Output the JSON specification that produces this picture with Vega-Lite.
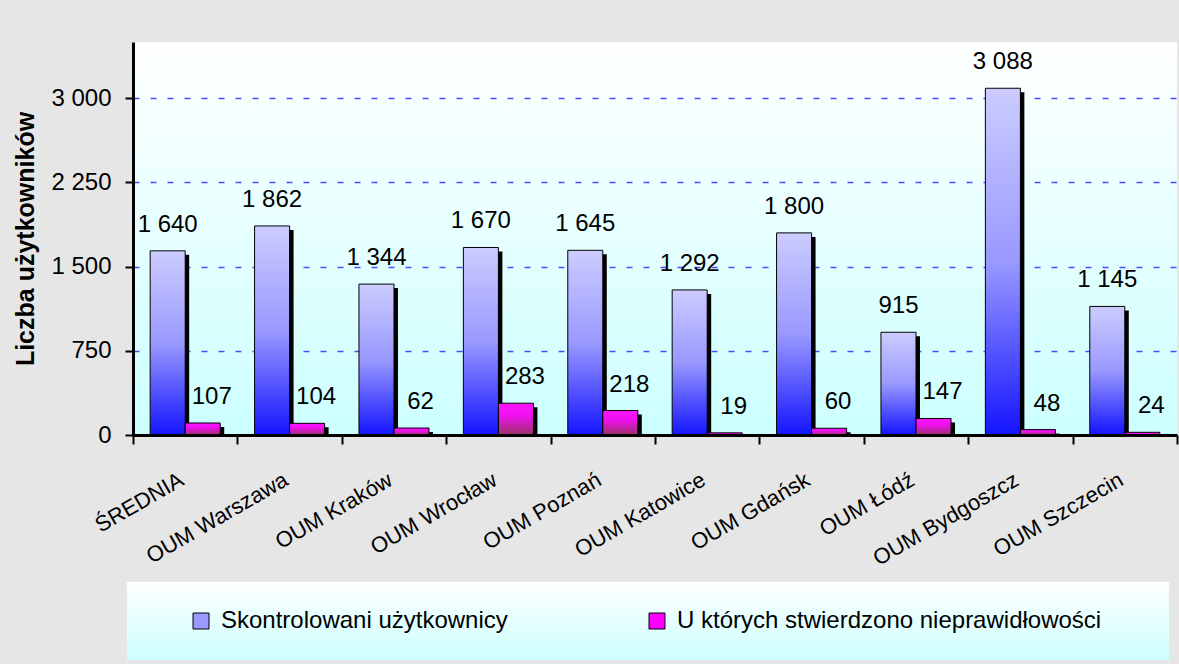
{
  "$schema": "https://vega.github.io/schema/vega-lite/v6.json",
  "width": 1044,
  "height": 393,
  "autosize": {"type": "none"},
  "padding": {"left": 133, "top": 42, "right": 2, "bottom": 229},
  "background": "#e6e6e6",
  "view": {
    "stroke": null,
    "fill": {"gradient": "linear", "x1": 0, "y1": 0, "x2": 0, "y2": 1,
      "stops": [{"offset": 0, "color": "#ffffff"}, {"offset": 1, "color": "#ccffff"}]}
  },
  "config": {
    "font": "Liberation Sans",
    "locale": {"number": {"decimal": ",", "thousands": " ", "grouping": [3], "currency": ["", " zł"]}}
  },
  "data": {
    "values": [
      {"oddzial": "ŚREDNIA", "seria": "Skontrolowani użytkownicy", "wartosc": 1640},
      {"oddzial": "ŚREDNIA", "seria": "U których stwierdzono nieprawidłowości", "wartosc": 107},
      {"oddzial": "OUM Warszawa", "seria": "Skontrolowani użytkownicy", "wartosc": 1862},
      {"oddzial": "OUM Warszawa", "seria": "U których stwierdzono nieprawidłowości", "wartosc": 104},
      {"oddzial": "OUM Kraków", "seria": "Skontrolowani użytkownicy", "wartosc": 1344},
      {"oddzial": "OUM Kraków", "seria": "U których stwierdzono nieprawidłowości", "wartosc": 62},
      {"oddzial": "OUM Wrocław", "seria": "Skontrolowani użytkownicy", "wartosc": 1670},
      {"oddzial": "OUM Wrocław", "seria": "U których stwierdzono nieprawidłowości", "wartosc": 283},
      {"oddzial": "OUM Poznań", "seria": "Skontrolowani użytkownicy", "wartosc": 1645},
      {"oddzial": "OUM Poznań", "seria": "U których stwierdzono nieprawidłowości", "wartosc": 218},
      {"oddzial": "OUM Katowice", "seria": "Skontrolowani użytkownicy", "wartosc": 1292},
      {"oddzial": "OUM Katowice", "seria": "U których stwierdzono nieprawidłowości", "wartosc": 19},
      {"oddzial": "OUM Gdańsk", "seria": "Skontrolowani użytkownicy", "wartosc": 1800},
      {"oddzial": "OUM Gdańsk", "seria": "U których stwierdzono nieprawidłowości", "wartosc": 60},
      {"oddzial": "OUM Łódź", "seria": "Skontrolowani użytkownicy", "wartosc": 915},
      {"oddzial": "OUM Łódź", "seria": "U których stwierdzono nieprawidłowości", "wartosc": 147},
      {"oddzial": "OUM Bydgoszcz", "seria": "Skontrolowani użytkownicy", "wartosc": 3088},
      {"oddzial": "OUM Bydgoszcz", "seria": "U których stwierdzono nieprawidłowości", "wartosc": 48},
      {"oddzial": "OUM Szczecin", "seria": "Skontrolowani użytkownicy", "wartosc": 1145},
      {"oddzial": "OUM Szczecin", "seria": "U których stwierdzono nieprawidłowości", "wartosc": 24}
    ]
  },
  "encoding": {
    "x": {
      "field": "oddzial", "type": "nominal", "sort": null,
      "scale": {"paddingInner": 0, "paddingOuter": 0},
      "axis": {
        "title": null, "labelAngle": -30, "labelAlign": "right", "labelBaseline": "top",
        "labelFontSize": 22, "labelColor": "#000000", "labelPadding": 25, "labelOffset": -9,
        "labelFont": "Liberation Sans", "labelLimit": 0,
        "tickBand": "extent", "tickSize": 9, "tickWidth": 2, "tickColor": "#000000",
        "domainColor": "#000000", "domainWidth": 3, "grid": false, "zindex": 1
      }
    },
    "xOffset": {
      "field": "seria", "type": "nominal", "sort": null,
      "scale": {"domain": ["Skontrolowani użytkownicy", "U których stwierdzono nieprawidłowości"], "paddingInner": 0, "paddingOuter": 0.49}
    },
    "y": {
      "field": "wartosc", "type": "quantitative",
      "scale": {"domain": [0, 3500], "nice": false},
      "axis": {
        "title": "Liczba użytkowników", "titleFontSize": 25, "titleFontWeight": "bold",
        "titleColor": "#000000", "titlePadding": 12, "titleFont": "Liberation Sans",
        "values": [0, 750, 1500, 2250, 3000], "format": ",d",
        "labelFontSize": 24, "labelColor": "#000000", "labelPadding": 14, "labelFont": "Liberation Sans",
        "tickSize": 8, "tickWidth": 2, "tickColor": "#000000",
        "domainColor": "#000000", "domainWidth": 3,
        "grid": true, "gridColor": "#4d4dff", "gridDash": [6, 11], "gridWidth": 1.5
      }
    }
  },
  "resolve": {"scale": {"xOffset": "independent"}},
  "layer": [
    {
      "mark": {"type": "bar", "fill": "#000000", "yOffset": 4, "clip": true},
      "encoding": {
        "xOffset": {
          "field": "seria", "type": "nominal", "sort": null,
          "scale": {"domain": ["Skontrolowani użytkownicy", "U których stwierdzono nieprawidłowości"], "paddingInner": 0, "paddingOuter": 0.49, "align": 0.616}
        }
      }
    },
    {
      "mark": {"type": "bar", "stroke": "#000000", "strokeWidth": 1},
      "encoding": {
        "fill": {
          "condition": {
            "test": "datum.seria === 'Skontrolowani użytkownicy'",
            "value": {"gradient": "linear", "x1": 0, "y1": 0, "x2": 0, "y2": 1,
              "stops": [{"offset": 0, "color": "#ccccff"}, {"offset": 0.5, "color": "#9999ff"}, {"offset": 1, "color": "#1414ff"}]}
          },
          "value": {"gradient": "linear", "x1": 0, "y1": 0, "x2": 0, "y2": 1,
            "stops": [{"offset": 0, "color": "#ff14ff"}, {"offset": 0.4, "color": "#ee10ee"}, {"offset": 1, "color": "#993366"}]}
        }
      }
    },
    {
      "mark": {"type": "square", "opacity": 0, "filled": true},
      "encoding": {
        "color": {
          "field": "seria", "type": "nominal", "sort": null,
          "scale": {
            "domain": ["Skontrolowani użytkownicy", "U których stwierdzono nieprawidłowości"],
            "range": ["#9999ff", "#ff00ff"]
          },
          "legend": {
            "orient": "none", "legendX": -6, "legendY": 540, "direction": "horizontal",
            "title": "\u00a0", "titleOrient": "left", "titlePadding": 35, "titleFontSize": 24,
            "padding": 27, "columnPadding": 137,
            "symbolType": "square", "symbolSize": 256, "symbolStrokeColor": "#000000", "symbolStrokeWidth": 1,
            "symbolOpacity": 1,
            "labelFontSize": 24, "labelColor": "#000000", "labelOffset": 8, "labelLimit": 0,
            "labelFont": "Liberation Sans",
            "labelExpr": "indexof(datum.label, 'Skontrolowani') === 0 ? datum.label : datum.label + '\u00a0\u00a0\u00a0\u00a0\u00a0\u00a0\u200b'",
            "encode": {
              "legend": {
                "update": {
                  "fill": {"value": {"gradient": "linear", "x1": 0, "y1": 0, "x2": 0, "y2": 1,
                    "stops": [{"offset": 0, "color": "#ffffff"}, {"offset": 1, "color": "#ccffff"}]}}
                }
              },
              "symbols": {
                "update": {
                  "fill": {"signal": "datum.value === 'Skontrolowani użytkownicy' ? {gradient: 'linear', x1: 0, y1: 0, x2: 0, y2: 1, stops: [{offset: 0, color: '#ccccff'}, {offset: 1, color: '#3333ff'}]} : {gradient: 'linear', x1: 0, y1: 0, x2: 0, y2: 1, stops: [{offset: 0, color: '#ff14ff'}, {offset: 1, color: '#993366'}]}"},
                  "stroke": {"value": "#000000"},
                  "opacity": {"value": 1}
                }
              }
            }
          }
        }
      }
    },
    {
      "transform": [{"filter": "datum.seria === 'Skontrolowani użytkownicy'"}],
      "mark": {"type": "text", "baseline": "alphabetic", "dy": -19, "fontSize": 24, "color": "#000000", "font": "Liberation Sans"},
      "encoding": {
        "xOffset": {
          "field": "seria", "type": "nominal", "sort": null,
          "scale": {"type": "point", "domain": ["Skontrolowani użytkownicy", "U których stwierdzono nieprawidłowości"], "padding": 0.99}
        },
        "text": {"field": "wartosc", "type": "quantitative", "format": ",d"}
      }
    },
    {
      "transform": [{"filter": "datum.seria !== 'Skontrolowani użytkownicy'"}],
      "mark": {"type": "text", "baseline": "alphabetic", "dy": -19, "dx": 9, "fontSize": 24, "color": "#000000", "font": "Liberation Sans"},
      "encoding": {
        "xOffset": {
          "field": "seria", "type": "nominal", "sort": null,
          "scale": {"type": "point", "domain": ["Skontrolowani użytkownicy", "U których stwierdzono nieprawidłowości"], "padding": 0.99}
        },
        "text": {"field": "wartosc", "type": "quantitative", "format": ",d"}
      }
    }
  ]
}
